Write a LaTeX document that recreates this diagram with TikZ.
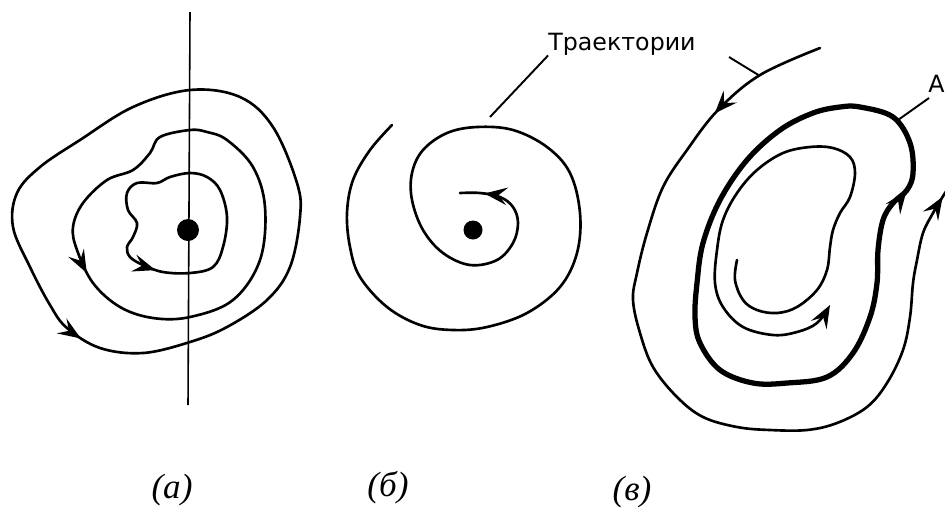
\documentclass[tikz,border=0pt]{standalone}
\usepackage{fontspec}
\usetikzlibrary{arrows.meta,decorations.markings}
\newfontfamily\labelfont{DejaVu Sans}
\newfontfamily\tagfont{Liberation Serif}

\begin{document}
\begin{tikzpicture}[x=0.02cm,y=-0.02cm]
	\tikzset{
		traj/.style={line width=1.5pt, line cap=round, line join=round},
		limcyc/.style={line width=3pt, line cap=round, line join=round},
		axisline/.style={line width=0.9pt},
		dot/.style={circle, fill, inner sep=0pt},
		lead/.style={line width=1.1pt},
		flow/.style={postaction={decorate, decoration={markings,
			mark=at position #1 with {\arrow{Stealth[length=13pt,width=10pt,inset=5pt]}}}}},
		tag/.style={font=\tagfont\itshape\fontsize{20}{22}\selectfont},
		lbl/.style={font=\labelfont\fontsize{13.5}{15}\selectfont, inner sep=0pt}
	}
	\useasboundingbox (0,0) rectangle (945,515);

	% (a) centre with closed orbits
	\coordinate (ax1) at (190,12);
	\coordinate (ax2) at (188,405);
	\draw[axisline] (ax1) -- (ax2);
	\node[dot, minimum size=0.44cm] (o1) at (188,230) {};
	\draw[traj, flow=0.365] plot[smooth cycle, tension=0.6] coordinates {
		(190,90) (133,107) (80,140) (40,167) (17,193) (13,227) (30,267)
		(50,305) (67,328) (100,348) (143,353) (190,342) (227,327) (267,300)
		(290,267) (300,217) (297,183) (273,127) (240,97)};
	\draw[traj, flow=0.30] plot[smooth cycle, tension=0.6] coordinates {
		(190,130) (160,137) (150,153) (133,170) (107,180) (83,203) (73,227)
		(77,250) (93,283) (120,307) (153,318) (190,317) (233,300) (260,260)
		(265,207) (253,167) (227,140) (207,132)};
	\draw[traj, flow=0.43] plot[smooth cycle, tension=0.6] coordinates {
		(190,173) (170,177) (157,183) (137,183) (127,193) (128,210) (137,223)
		(133,237) (127,247) (130,257) (143,265) (163,272) (190,273) (213,267)
		(223,247) (227,217) (220,190) (207,177)};

	% (b) focus
	\node[dot, minimum size=0.38cm] (o2) at (473,230) {};
	\draw[traj, flow=0.975] plot[smooth, tension=0.6] coordinates {
		(392,125) (370,150) (353,180) (347,213) (350,247) (360,277) (387,307)
		(420,325) (453,330) (487,327) (527,313) (560,287) (577,253) (580,213)
		(570,173) (547,147) (513,130) (477,127) (447,133) (423,150) (412,173)
		(412,200) (423,230) (443,253) (470,265) (497,260) (513,243) (518,223)
		(513,207) (500,197) (480,193) (460,193)};

	% (v) limit cycle
	\draw[traj, flow=0.14, flow=0.975] plot[smooth, tension=0.6] coordinates {
		(820,48) (760,75) (718,110) (687,150) (663,187) (647,233) (637,273)
		(633,300) (640,333) (653,367) (677,397) (703,417) (737,427) (770,430)
		(807,430) (837,423) (867,407) (887,383) (903,350) (910,317) (913,283)
		(917,260) (923,233) (933,213) (945,193) (955,178)};
	\draw[limcyc, flow=0.83] plot[smooth cycle, tension=0.6] coordinates {
		(860,107) (840,107) (813,113) (780,130) (747,160) (720,200) (703,243)
		(697,283) (695,317) (700,343) (720,370) (753,383) (787,383) (827,377)
		(853,353) (870,317) (877,283) (878,250) (883,220) (893,203) (907,190)
		(913,173) (910,143) (893,117)};
	\draw[traj, -{Stealth[length=13pt,width=10pt,inset=5pt]}] plot[smooth, tension=0.6] coordinates {
		(737,260) (735,280) (743,300) (757,310) (777,313) (797,307) (817,290)
		(827,270) (830,247) (833,230) (840,213) (850,197) (855,173) (850,157)
		(833,148) (810,147) (783,153) (757,170) (737,193) (723,220) (717,250)
		(715,283) (723,307) (743,327) (773,335) (797,332) (817,323) (830,305)};

	% labels and leaders
	\node[lbl] (traj) at (622,44) {Траектории};
	\coordinate (tr1) at (490,117);
	\coordinate (tr2) at (729,57);
	\coordinate (tr3) at (760,76);
	\draw[lead] (traj.south west) -- (tr1);
	\draw[lead] (tr2) -- (tr3);
	\node[lbl, anchor=east] (cyc) at (945,84) {А};
	\coordinate (cy1) at (898,120);
	\coordinate (cy2) at (929,98);
	\draw[lead] (cy1) -- (cy2);

	\node[tag] (ta) at (172,490) {(а)};
	\node[tag] (tb) at (388,488) {(б)};
	\node[tag] (tv) at (632,492) {(в)};
\end{tikzpicture}
\end{document}
